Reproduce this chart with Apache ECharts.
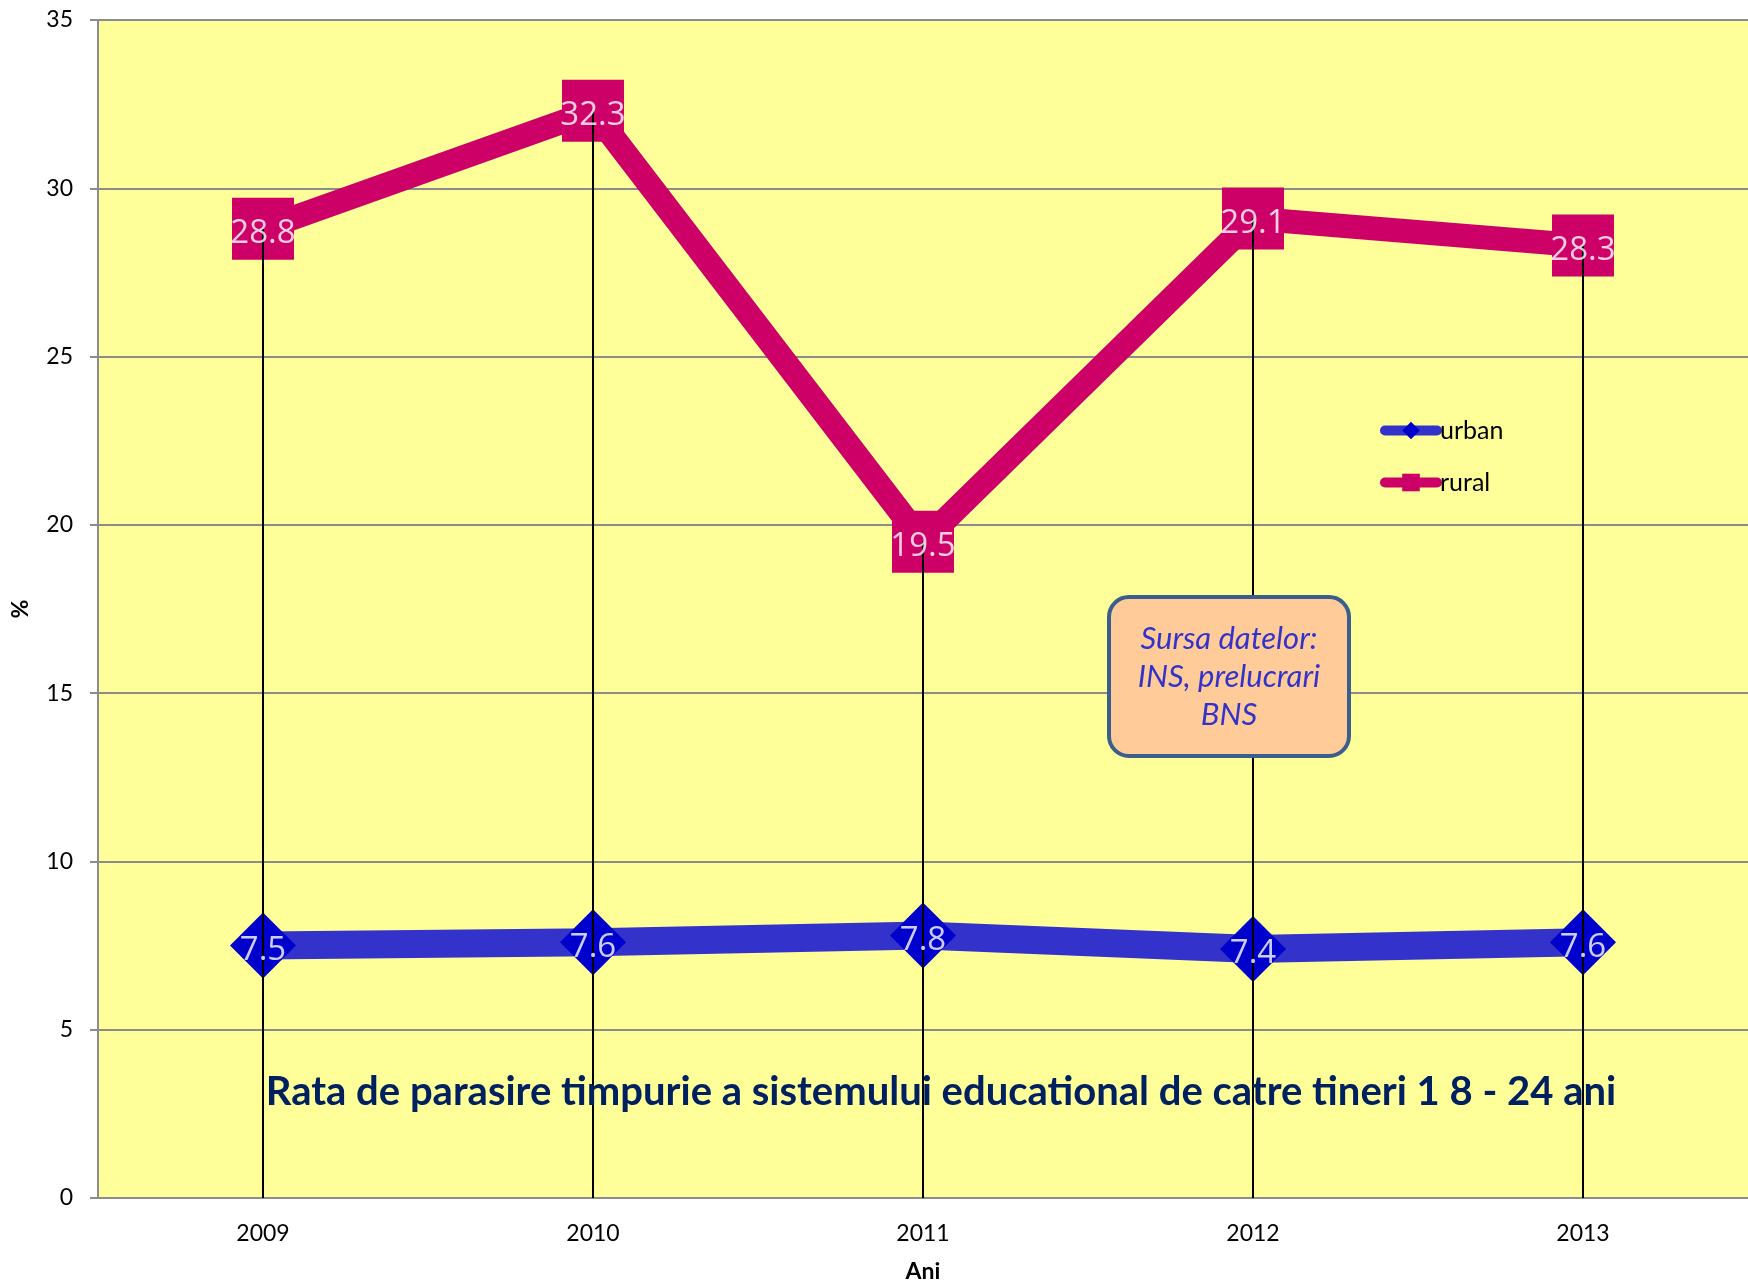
<!DOCTYPE html>
<html>
<head>
<meta charset="utf-8">
<script src="https://cdn.jsdelivr.net/npm/echarts@6/dist/echarts.min.js"></script>
<style>html,body{margin:0;padding:0;background:#fff}#c{width:1748px;height:1288px}</style>
</head>
<body>
<div id="c"></div>
<script>
const years = ['2009', '2010', '2011', '2012', '2013'];
const urban = [7.5, 7.6, 7.8, 7.4, 7.6];
const rural = [28.8, 32.3, 19.5, 29.1, 28.3];
const yTicks = {min: 0, max: 35, interval: 5};
const titleText = 'Rata de parasire timpurie a sistemului educational de catre tineri 1 8 - 24 ani';
const sourceLines = ['Sursa datelor:', 'INS, prelucrari', 'BNS'];

const dropTops = years.map((y, i) => Math.max(urban[i], rural[i]));

const chart = echarts.init(document.getElementById('c'), null, {renderer: 'canvas'});
const labelStyle = {show: true, position: 'inside', offset: [0, 5], color: '#fff', fontFamily: 'Open Sans', fontSize: 33};
chart.setOption({
  animation: false,
  textStyle: {fontFamily: 'Lato'},
  grid: {left: 98, right: 0, top: 20, bottom: 89, show: true, backgroundColor: '#FFFF99', borderWidth: 0},
  legend: {
    orient: 'vertical', left: 1375, top: 413, itemWidth: 52, itemHeight: 22, itemGap: 27,
    data: ['urban', 'rural'],
    lineStyle: {width: 10, cap: 'round'},
    textStyle: {fontFamily: 'Lato', fontSize: 25, color: '#000', padding: [0, 0, 0, -2]}
  },
  xAxis: {
    type: 'category', data: years, boundaryGap: true,
    name: 'Ani', nameLocation: 'middle', nameGap: 62,
    nameTextStyle: {fontFamily: 'Lato', fontWeight: 'bold', fontSize: 23, color: '#000'},
    axisLine: {lineStyle: {color: '#8c8c8c', width: 2}},
    axisTick: {show: false},
    axisLabel: {fontFamily: 'Lato', fontSize: 23, color: '#000', margin: 24},
    splitLine: {show: false}
  },
  yAxis: {
    type: 'value', min: yTicks.min, max: yTicks.max, interval: yTicks.interval,
    name: '%', nameLocation: 'middle', nameGap: 66, nameRotate: 90,
    nameTextStyle: {fontFamily: 'Lato', fontWeight: 'bold', fontSize: 23, color: '#000'},
    axisLine: {show: true, lineStyle: {color: '#8c8c8c', width: 2}},
    axisTick: {show: true, length: 8, lineStyle: {color: '#8c8c8c', width: 2}},
    axisLabel: {fontFamily: 'Lato', fontSize: 23, color: '#000', margin: 25},
    splitLine: {show: true, lineStyle: {color: '#8c8c8c', width: 2}}
  },
  series: [
    {
      name: 'urban', type: 'line', data: urban, z: 2,
      symbol: 'diamond', symbolSize: 66,
      lineStyle: {color: '#3333CC', width: 28},
      itemStyle: {color: '#0000CC'},
      label: {show: false}
    },
    {
      name: 'rural', type: 'line', data: rural, z: 2,
      symbol: 'rect', symbolSize: 62,
      lineStyle: {color: '#CC0066', width: 24, join: 'miter'},
      itemStyle: {color: '#CC0066'},
      label: {show: false}
    },
    {
      name: 'drop', type: 'bar', data: dropTops, z: 3, barWidth: 2,
      itemStyle: {color: '#000'}, silent: true, legendHoverLink: false
    },
    {
      name: 'urbanLbl', type: 'scatter', data: urban, z: 4, symbolSize: 0,
      label: Object.assign({}, labelStyle, {formatter: p => p.value.toFixed(1)})
    },
    {
      name: 'ruralLbl', type: 'scatter', data: rural, z: 4, symbolSize: 0,
      label: Object.assign({}, labelStyle, {formatter: p => p.value.toFixed(1)})
    }
  ],
  graphic: [
    {
      type: 'rect', z: 10,
      shape: {x: 1109, y: 597, width: 240, height: 159, r: 20},
      style: {fill: '#FFCC99', stroke: '#3B5F8C', lineWidth: 4}
    },
    {
      type: 'text', z: 11, x: 1229, y: 677,
      style: {
        text: sourceLines.join('\n'), align: 'center', verticalAlign: 'middle',
        fontFamily: 'Lato', fontStyle: 'italic', fontSize: 31, lineHeight: 38, fill: '#3333CC'
      }
    },
    {
      type: 'text', z: 11, x: 941, y: 1092,
      style: {
        text: titleText, align: 'center', verticalAlign: 'middle',
        fontFamily: 'Lato', fontWeight: 'bold', fontSize: 40, fill: '#002060'
      }
    }
  ]
});
</script>
</body>
</html>
